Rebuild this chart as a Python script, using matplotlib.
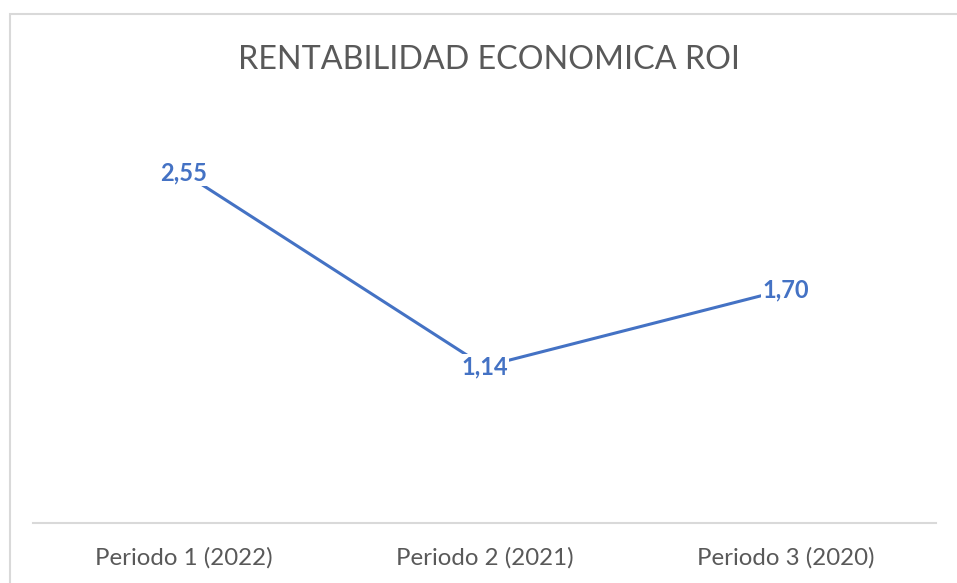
import matplotlib.pyplot as plt
from matplotlib.patches import Rectangle

# datos del grafico
periodos = ['Periodo 1 (2022)', 'Periodo 2 (2021)', 'Periodo 3 (2020)']
roi = [2.55, 1.14, 1.70]
etiquetas = ['2,55', '1,14', '1,70']

azul = '#4472C4'
gris = '#595959'

fig = plt.figure(figsize=(9.57, 5.83), dpi=100)
W, H = 957, 583

# marco del grafico (recortado a la derecha y abajo)
fig.patches.append(Rectangle((9.5 / W, -0.05), 1.2, 1 - 13.5 / H + 0.05,
                             transform=fig.transFigure, fill=False,
                             edgecolor='#D9D9D9', linewidth=1.5))

ax = fig.add_axes([33 / W, 1 - 523 / H, (936 - 33) / W, (523 - 111) / H])
x = list(range(len(periodos)))
ax.plot(x, roi, color=azul, linewidth=2.2, solid_capstyle='butt')

for xi, yi, t in zip(x, roi, etiquetas):
    ax.text(xi, yi, t, ha='center', va='center', color=azul, fontsize=17,
            fontweight='bold', family='Lato',
            bbox=dict(facecolor='white', edgecolor='none', pad=1.0))

ax.set_xlim(-0.5, 2.5)
ax.set_ylim(0, 3)
ax.set_xticks(x)
ax.set_xticklabels(periodos, fontsize=17.3, color=gris, family='Lato')
ax.set_yticks([])
ax.tick_params(axis='x', length=0, pad=17)
for s in ['top', 'left', 'right']:
    ax.spines[s].set_visible(False)
ax.spines['bottom'].set_color('#D9D9D9')
ax.spines['bottom'].set_linewidth(1.5)

fig.text(489 / W, 1 - 60 / H, 'RENTABILIDAD ECONOMICA ROI', ha='center',
         va='center', fontsize=23.2, color=gris, family='Lato')

fig.savefig('out.png', dpi=100)
